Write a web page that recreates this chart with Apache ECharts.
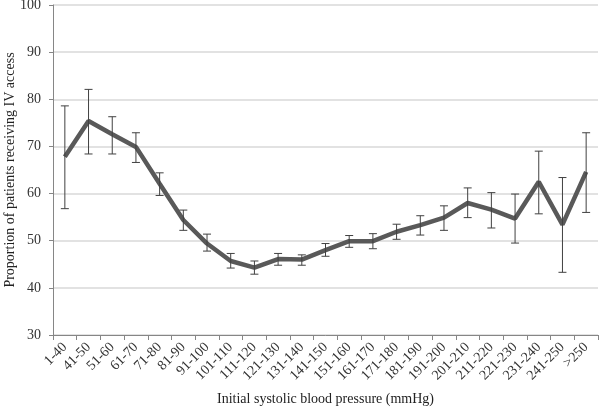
<!DOCTYPE html>
<html>
<head>
<meta charset="utf-8">
<script src="https://cdn.jsdelivr.net/npm/echarts@6/dist/echarts.min.js"></script>
<style>html,body{margin:0;padding:0;background:#fff}#c{width:600px;height:410px}</style>
</head>
<body>
<div id="c"></div>
<script>
var categories = ['1-40','41-50','51-60','61-70','71-80','81-90','91-100','101-110','111-120','121-130','131-140','141-150','151-160','161-170','171-180','181-190','191-200','201-210','211-220','221-230','231-240','241-250','>250'];
var proportion = [67.8,75.4,72.6,69.9,62.1,54.4,49.4,45.7,44.3,46.1,46.0,48.0,49.9,49.9,51.9,53.3,54.9,58.0,56.6,54.7,62.5,53.4,64.6];
var upper = [78.6,82.1,76.3,72.9,64.4,56.5,51.4,47.3,45.7,47.3,47.0,49.4,51.1,51.5,53.5,55.3,57.4,61.2,60.2,59.9,69.0,63.4,72.9];
var lower = [56.8,68.4,68.4,66.6,59.6,52.2,47.8,44.2,42.9,44.8,44.8,46.7,48.6,48.3,50.3,51.2,52.2,54.9,52.7,49.5,55.7,43.3,56.0];
var yTicks = [30,40,50,60,70,80,90,100];

var errData = categories.map(function(c,i){ return [i, lower[i], upper[i]]; });
var font = '"Liberation Serif", "Times New Roman", serif';
var chart = echarts.init(document.getElementById('c'), null, {renderer:'canvas'});
chart.setOption({
  animation:false,
  backgroundColor:'#fff',
  grid:{left:53, right:2, top:5, bottom:75, containLabel:false, outerBoundsMode:'none'},
  xAxis:{
    type:'category', data:categories, boundaryGap:true,
    name:'Initial systolic blood pressure (mmHg)', nameLocation:'middle', nameGap:57, nameMoveOverlap:false,
    nameTextStyle:{fontFamily:font, fontSize:14, color:'#222'},
    axisLine:{lineStyle:{color:'#868686', width:1}},
    axisTick:{show:true, length:5, interval:0, lineStyle:{color:'#868686'}},
    axisLabel:{rotate:45, interval:0, fontFamily:font, fontSize:14, color:'#333', margin:10}
  },
  yAxis:{
    type:'value', min:yTicks[0], max:yTicks[yTicks.length-1], interval:10,
    name:'Proportion of patients receiving IV access', nameLocation:'middle', nameGap:36, nameMoveOverlap:false,
    nameTextStyle:{fontFamily:font, fontSize:14, color:'#222'},
    axisLine:{show:true, lineStyle:{color:'#868686', width:1}},
    axisTick:{show:true, length:4, lineStyle:{color:'#868686'}},
    axisLabel:{fontFamily:font, fontSize:14, color:'#333', margin:12},
    splitLine:{lineStyle:{color:'#d9d9d9', width:1.5}}
  },
  series:[
    {
      type:'line', data:proportion, symbol:'none',
      lineStyle:{color:'#595959', width:4.5}, z:3
    },
    {
      type:'custom', data:errData, z:4,
      renderItem:function(params, api){
        var i = api.value(0);
        var lo = api.coord([i, api.value(1)]);
        var hi = api.coord([i, api.value(2)]);
        var hw = 4;
        var st = {stroke:'#404040', lineWidth:1};
        return {type:'group', children:[
          {type:'line', shape:{x1:lo[0], y1:lo[1], x2:hi[0], y2:hi[1]}, style:st},
          {type:'line', shape:{x1:lo[0]-hw, y1:lo[1], x2:lo[0]+hw, y2:lo[1]}, style:st},
          {type:'line', shape:{x1:hi[0]-hw, y1:hi[1], x2:hi[0]+hw, y2:hi[1]}, style:st}
        ]};
      }
    }
  ]
});
</script>
</body>
</html>
